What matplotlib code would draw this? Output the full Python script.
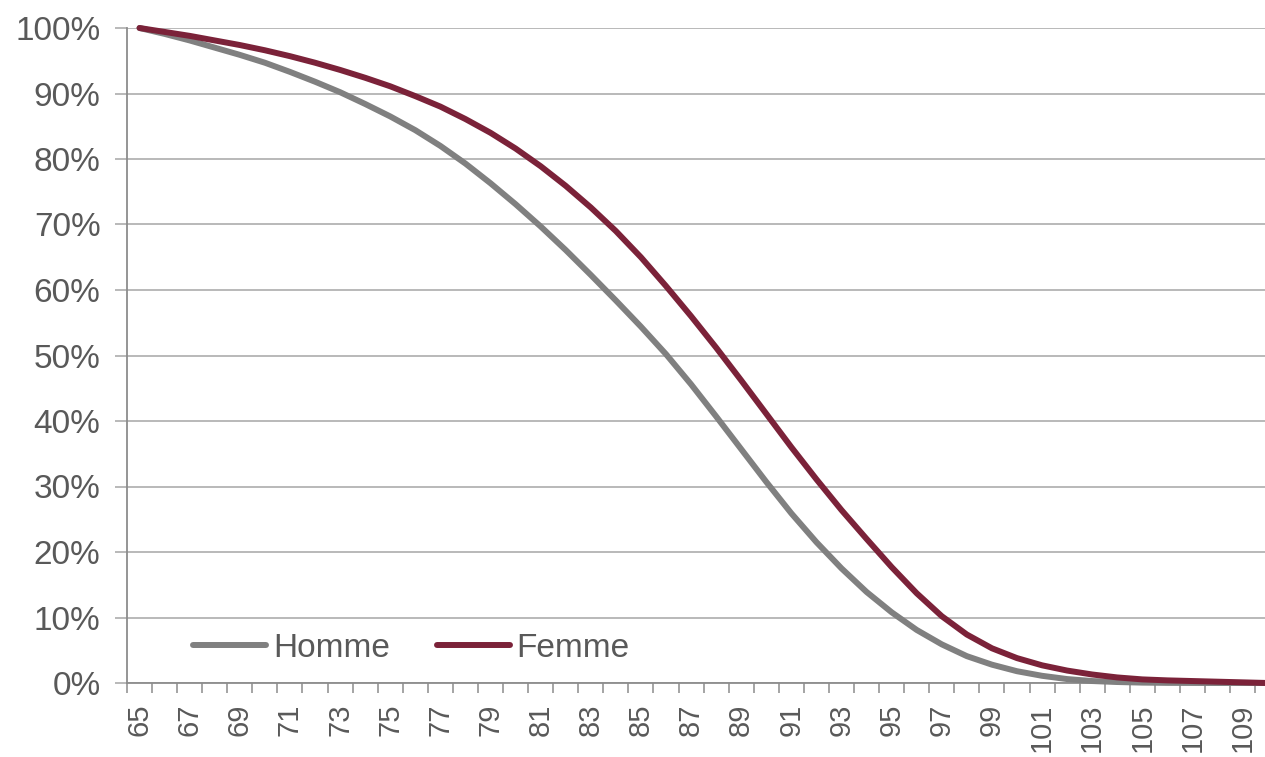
import numpy as np
import matplotlib
matplotlib.use('Agg')
import matplotlib.pyplot as plt
from matplotlib.ticker import FixedLocator, FuncFormatter, NullFormatter

# Ages et probabilités de survie (en %)
ages = list(range(65, 111))
homme = [100, 99.1, 98.1, 97.0, 95.9, 94.7, 93.3, 91.8, 90.2, 88.4,
         86.5, 84.4, 82.0, 79.3, 76.3, 73.1, 69.7, 66.1, 62.3, 58.4,
         54.4, 50.2, 45.6, 40.7, 35.7, 30.7, 25.9, 21.5, 17.5, 13.9,
         10.8, 8.1, 5.9, 4.1, 2.8, 1.8, 1.1, 0.6, 0.3, 0.15,
         0.06, 0.02, 0.01, 0.0, 0.0, 0.0]
femme = [100, 99.4, 98.8, 98.1, 97.4, 96.6, 95.7, 94.7, 93.6, 92.4,
         91.1, 89.6, 88.0, 86.1, 84.0, 81.6, 78.9, 75.9, 72.6, 69.0,
         65.0, 60.6, 56.0, 51.2, 46.2, 41.1, 36.0, 31.1, 26.4, 22.0,
         17.7, 13.7, 10.2, 7.4, 5.3, 3.8, 2.7, 1.9, 1.3, 0.85,
         0.55, 0.4, 0.3, 0.2, 0.1, 0.0]
labels = ['Homme', 'Femme']
couleurs = ['#808080', '#7b2239']

plt.rcParams['font.family'] = ['Liberation Sans', 'DejaVu Sans']

fig = plt.figure(figsize=(12.65, 7.57), dpi=100)
ax = fig.add_axes([127 / 1265, 1 - 683 / 757, 1138 / 1265, 655 / 757])

for serie, lab, c in zip([homme, femme], labels, couleurs):
    ax.plot(ages, np.array(serie) / 100, color=c, lw=4.3, label=lab,
            clip_on=False, solid_capstyle='round', solid_joinstyle='round',
            zorder=3)

ax.set_xlim(64.5, 64.5 + 1138 / 25.07)
ax.set_ylim(0, 1)

# axe des ordonnées
ax.set_yticks(np.arange(0, 1.01, 0.1))
ax.yaxis.set_major_formatter(FuncFormatter(lambda v, p: '%d%%' % round(v * 100)))
ax.grid(axis='y', color='#a6a6a6', lw=1.1)
ax.tick_params(axis='y', length=9, width=1.1, color='#a6a6a6', pad=10,
               labelsize=24, labelcolor='#595959')

# axe des abscisses : traits entre les catégories, libellés un an sur deux
ax.xaxis.set_major_locator(FixedLocator(np.arange(64.5, 111, 1)))
ax.xaxis.set_major_formatter(NullFormatter())
ax.xaxis.set_minor_locator(FixedLocator(ages[::2]))
ax.xaxis.set_minor_formatter(FuncFormatter(lambda v, p: '%d' % v))
ax.tick_params(axis='x', which='major', length=7, width=1.1, color='#8c8c8c')
ax.tick_params(axis='x', which='minor', length=0, pad=15, labelsize=21,
               labelcolor='#595959', labelrotation=90)

for s in ['top', 'right']:
    ax.spines[s].set_visible(False)
for s in ['left', 'bottom']:
    ax.spines[s].set_color('#8c8c8c')
    ax.spines[s].set_linewidth(1.3)
ax.set_axisbelow(True)

leg = ax.legend(loc='center left', bbox_to_anchor=(0.058, 0.053), ncol=2,
                frameon=False, fontsize=24, handlelength=2.2,
                handletextpad=0.2, columnspacing=1.4, borderpad=0,
                borderaxespad=0)
for t in leg.get_texts():
    t.set_color('#595959')

fig.savefig('out.png', dpi=100)
